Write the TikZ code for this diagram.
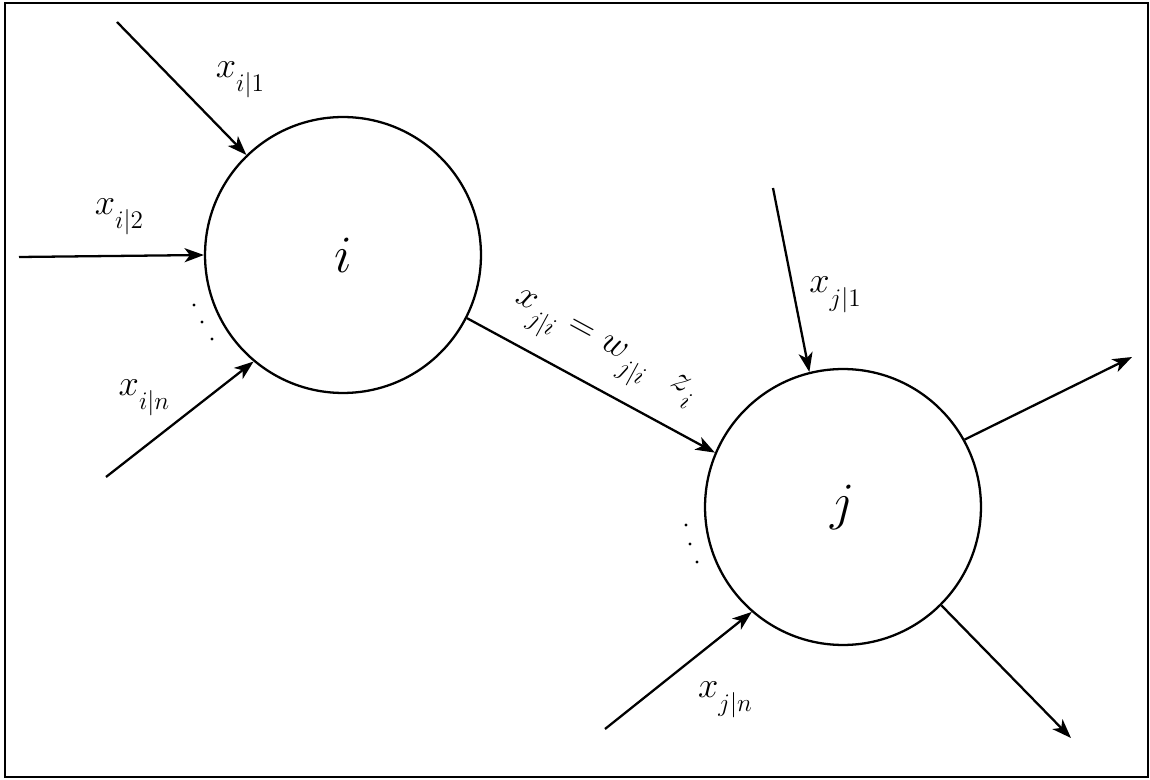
\documentclass[tikz,border=0pt]{standalone}
\usepackage{graphicx}
\usetikzlibrary{arrows.meta,positioning}
\newcommand{\sublbl}[2]{$#1$\raisebox{-8pt}{\fontsize{14.5}{15}\selectfont$#2$}}

\begin{document}
\begin{tikzpicture}[x=0.02cm,y=-0.02cm,
  neuron/.style={draw, circle, line width=1.3pt, minimum size=5.52cm, inner sep=0pt, font=\fontsize{24.88}{28}\selectfont},
  wire/.style={line width=1.3pt, -{Stealth[length=11pt,width=8pt,inset=3pt]}},
  lbl/.style={inner sep=0pt, font=\fontsize{21}{24}\selectfont}]
\useasboundingbox (0,0) rectangle (1150,780);
\draw[line width=1.4pt] (5,3) rectangle (1148,777);
\node[neuron] (i) at (343,255) {\scalebox{1.2}{$i$}};
\node[neuron] (j) at (843,507) {\scalebox{1.2}{$j$}};
\coordinate (ini1) at (117,22);
\coordinate (ini2) at (19,257);
\coordinate (inin) at (106,477);
\coordinate (inj1) at (773,188);
\coordinate (injn) at (605,729);
\coordinate (outj1) at (1132,357);
\coordinate (outj2) at (1071,738);
\draw[wire] (ini1) -- (i.134);
\draw[wire] (ini2) -- (i.180);
\draw[wire] (inin) -- (i.230);
\draw[wire] (i.-27) -- node[lbl, sloped, pos=0.48, above=9pt] {\sublbl{x}{j|i}\ $=$\ \sublbl{w}{j|i}\hspace{0.7em}\sublbl{z}{i}} (j.157);
\draw[wire] (inj1) -- (j.104);
\draw[wire] (injn) -- (j.229);
\draw[wire] (j.29) -- (outj1);
\draw[wire] (j.-45) -- (outj2);
\node[lbl] (li1) at (240,80) {\sublbl{x}{i|1}};
\node[lbl] (li2) at (119,217) {\sublbl{x}{i|2}};
\node[lbl] (lin) at (144,398) {\sublbl{x}{i|n}};
\node[lbl] (lj1) at (835,295) {\sublbl{x}{j|1}};
\node[lbl] (ljn) at (725,700) {\sublbl{x}{j|n}};
\foreach \p in {(194,305),(202,322),(212,339),(686,525),(690,544),(697,562)}
  \fill \p circle (0.9pt);
\end{tikzpicture}
\end{document}
